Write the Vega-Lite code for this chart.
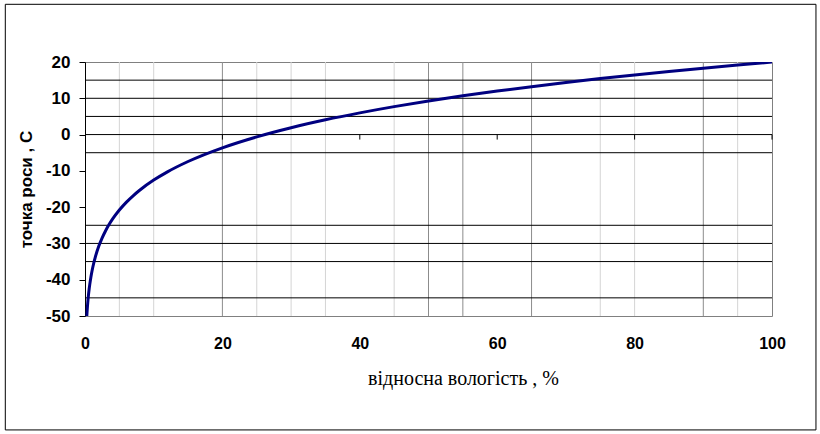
{
  "$schema": "https://vega.github.io/schema/vega-lite/v6.json",
  "width": 687,
  "height": 254,
  "autosize": {"type": "none"},
  "padding": {"left": 85, "top": 62, "right": 48, "bottom": 118},
  "background": "white",
  "config": {
    "view": {"stroke": "#808080", "strokeWidth": 1},
    "axis": {"labelFlush": false, "grid": false},
    "axisX": {
      "domain": false,
      "ticks": false,
      "tickSize": 0,
      "labelFont": "Liberation Sans",
      "labelFontWeight": "bold",
      "labelFontSize": 16,
      "labelColor": "#000000",
      "labelPadding": 19,
      "titleFont": "Liberation Serif, Times New Roman, DejaVu Serif, serif",
      "titleFontWeight": "normal",
      "titleFontSize": 20,
      "titleColor": "#000000",
      "titlePadding": 17,
      "titleX": 378
    },
    "axisY": {
      "domain": true,
      "domainColor": "#000000",
      "ticks": true,
      "tickColor": "#000000",
      "tickSize": 6,
      "labelFont": "Liberation Sans",
      "labelFontWeight": "bold",
      "labelFontSize": 17,
      "labelColor": "#000000",
      "labelPadding": 9,
      "labelOverlap": false,
      "labelSeparation": 0,
      "titleFont": "Liberation Sans",
      "titleFontWeight": "bold",
      "titleFontSize": 17,
      "titleColor": "#000000",
      "titlePadding": 10
    }
  },
  "datasets": {
    "curve": [
      {"rh": 0.26, "td": -50.0},
      {"rh": 0.3, "td": -48.86},
      {"rh": 0.35, "td": -47.52},
      {"rh": 0.4, "td": -46.33},
      {"rh": 0.5, "td": -44.32},
      {"rh": 0.6, "td": -42.64},
      {"rh": 0.7, "td": -41.21},
      {"rh": 0.85, "td": -39.36},
      {"rh": 1, "td": -37.79},
      {"rh": 1.25, "td": -35.6},
      {"rh": 1.5, "td": -33.77},
      {"rh": 2, "td": -30.81},
      {"rh": 2.5, "td": -28.46},
      {"rh": 3, "td": -26.49},
      {"rh": 3.5, "td": -24.8},
      {"rh": 4, "td": -23.32},
      {"rh": 5, "td": -20.79},
      {"rh": 6, "td": -18.68},
      {"rh": 7, "td": -16.87},
      {"rh": 8, "td": -15.27},
      {"rh": 10, "td": -12.55},
      {"rh": 12, "td": -10.27},
      {"rh": 15, "td": -7.42},
      {"rh": 20, "td": -3.65},
      {"rh": 25, "td": -0.63},
      {"rh": 30, "td": 1.89},
      {"rh": 35, "td": 4.07},
      {"rh": 40, "td": 5.98},
      {"rh": 45, "td": 7.7},
      {"rh": 50, "td": 9.25},
      {"rh": 55, "td": 10.68},
      {"rh": 60, "td": 11.99},
      {"rh": 65, "td": 13.21},
      {"rh": 70, "td": 14.36},
      {"rh": 75, "td": 15.43},
      {"rh": 80, "td": 16.44},
      {"rh": 85, "td": 17.4},
      {"rh": 90, "td": 18.31},
      {"rh": 95, "td": 19.17},
      {"rh": 100, "td": 20.0}
    ],
    "minorX": [{"rh": 5}, {"rh": 10}, {"rh": 25}, {"rh": 30}, {"rh": 35}, {"rh": 45}, {"rh": 75}, {"rh": 80}, {"rh": 95}],
    "majorX": [{"rh": 20}, {"rh": 50}, {"rh": 55}, {"rh": 65}, {"rh": 90}],
    "hLines": [{"td": 15}, {"td": 10}, {"td": 5}, {"td": 0}, {"td": -5}, {"td": -25}, {"td": -30}, {"td": -35}, {"td": -45}],
    "zeroTicks": [{"rh": 20, "td": 0}, {"rh": 40, "td": 0}, {"rh": 60, "td": 0}, {"rh": 80, "td": 0}, {"rh": 100, "td": 0}]
  },
  "layer": [
    {
      "data": {"name": "minorX"},
      "mark": {"type": "rule", "color": "#d4d4d4", "strokeWidth": 1},
      "encoding": {
        "x": {
          "field": "rh",
          "type": "quantitative",
          "scale": {"domain": [0, 100], "nice": false, "zero": false},
          "axis": {
            "values": [0, 20, 40, 60, 80, 100],
            "labelExpr": "'' + datum.value",
            "title": "відносна вологість , %"
          }
        }
      }
    },
    {
      "data": {"name": "majorX"},
      "mark": {"type": "rule", "color": "#8c8c8c", "strokeWidth": 1},
      "encoding": {
        "x": {"field": "rh", "type": "quantitative", "scale": {"domain": [0, 100], "nice": false, "zero": false}}
      }
    },
    {
      "data": {"name": "hLines"},
      "mark": {"type": "rule", "color": "#000000", "strokeWidth": 1},
      "encoding": {
        "y": {
          "field": "td",
          "type": "quantitative",
          "scale": {"domain": [-50, 20], "nice": false, "zero": false},
          "axis": {
            "tickCount": 8,
            "labelOverlap": false,
            "labelExpr": "'' + datum.value",
            "title": "точка роси , С"
          }
        }
      }
    },
    {
      "data": {"name": "zeroTicks"},
      "mark": {"type": "rule", "color": "#000000", "strokeWidth": 1, "y2Offset": 5},
      "encoding": {
        "x": {"field": "rh", "type": "quantitative"},
        "y": {"field": "td", "type": "quantitative"},
        "y2": {"field": "td"}
      }
    },
    {
      "data": {"name": "curve"},
      "mark": {"type": "line", "color": "#000080", "strokeWidth": 3, "interpolate": "monotone", "clip": true},
      "encoding": {
        "x": {"field": "rh", "type": "quantitative"},
        "y": {"field": "td", "type": "quantitative"}
      }
    },
    {
      "data": {"values": [{}]},
      "mark": {"type": "rect", "filled": false, "stroke": "#000000", "strokeWidth": 1, "clip": false},
      "encoding": {
        "x": {"datum": -11.6},
        "x2": {"datum": 106.4},
        "y": {"datum": 35.9},
        "y2": {"datum": -81.4}
      }
    }
  ]
}
